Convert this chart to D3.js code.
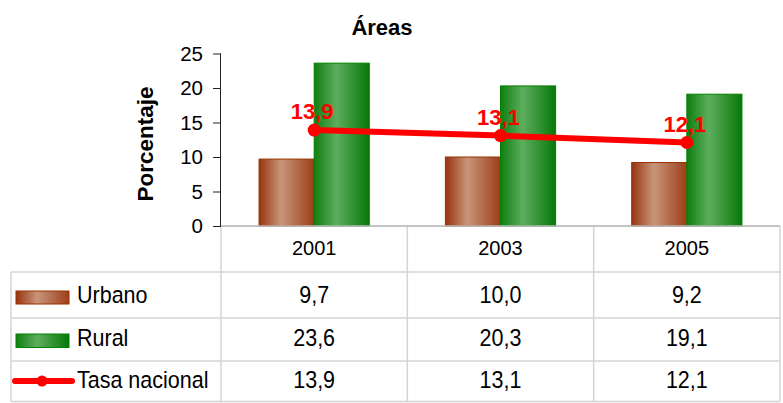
<!DOCTYPE html>
<html>
<head>
<meta charset="utf-8">
<script src="https://cdn.jsdelivr.net/npm/d3@7"></script>
<style>
  html, body { margin: 0; padding: 0; background: #ffffff; }
  svg { display: block; }
  text { font-family: "Liberation Sans", Arial, sans-serif; }
</style>
</head>
<body>
<svg id="chart" width="783" height="403"></svg>
<script>
// ---- data ----
const years = ["2001", "2003", "2005"];
const urbano = [9.7, 10.0, 9.2];
const rural = [23.6, 20.3, 19.1];
const tasa = [13.9, 13.1, 12.1];
const seriesNames = ["Urbano", "Rural", "Tasa nacional"];
const yTicks = [0, 5, 10, 15, 20, 25];
const titleText = "Áreas";
const yTitle = "Porcentaje";

// ---- setup ----
const svg = d3.select("#chart");
const plotL = 221, plotR = 780, plotT = 53.5, plotB = 226;
const rowLines = [226, 272, 318, 361, 401.5];
const tableL = 11;

const locale = d3.formatLocale({decimal: ",", thousands: ".", grouping: [3], currency: ["", ""]});
const fmt = locale.format(".1f");

const x0 = d3.scaleBand().domain(years).range([plotL, plotR]).padding(0);
const x1 = d3.scaleBand().domain(["Urbano", "Rural"]).range([0, x0.bandwidth()])
  .paddingInner(0).paddingOuter(0.69);
const y = d3.scaleLinear().domain([0, 25]).range([plotB, plotT]);

// ---- gradients ----
const defs = svg.append("defs");
function grad(id, edgeL, mid, edgeR) {
  const g = defs.append("linearGradient").attr("id", id)
    .attr("x1", "0%").attr("x2", "100%").attr("y1", "0%").attr("y2", "0%");
  g.append("stop").attr("offset", "0%").attr("stop-color", edgeL);
  g.append("stop").attr("offset", "40%").attr("stop-color", mid);
  g.append("stop").attr("offset", "100%").attr("stop-color", edgeR);
}
grad("gUrb", "#983410", "#c8957a", "#9c3e18");
grad("gRur", "#0f7f0f", "#5dad5d", "#087808");
const fills = {Urbano: "url(#gUrb)", Rural: "url(#gRur)"};
const strokes = {Urbano: "#993300", Rural: "#008000"};
const seriesVals = {Urbano: urbano, Rural: rural};

// ---- title ----
svg.append("text").attr("x", 382).attr("y", 35).attr("text-anchor", "middle")
  .attr("font-size", 22).attr("font-weight", "bold").attr("fill", "#000").text(titleText);

// ---- y title ----
svg.append("text").attr("transform", "translate(153,144) rotate(-90)")
  .attr("text-anchor", "middle").attr("font-size", 22.5).attr("font-weight", "bold")
  .attr("fill", "#000").text(yTitle);

// ---- table grid ----
const grid = svg.append("g").attr("stroke", "#d4d4d4").attr("stroke-width", 1.5).attr("fill", "none");
rowLines.forEach((yy, i) => {
  grid.append("line").attr("x1", i === 0 ? plotL : tableL).attr("x2", plotR)
    .attr("y1", yy).attr("y2", yy);
});
const colEdges = years.map(d => x0(d)).concat([plotR]);
colEdges.forEach(xx => {
  grid.append("line").attr("x1", xx).attr("x2", xx).attr("y1", plotB).attr("y2", rowLines[4]);
});
grid.append("line").attr("x1", tableL).attr("x2", tableL).attr("y1", rowLines[1]).attr("y2", rowLines[4]);

// ---- bars ----
const barG = svg.append("g");
["Urbano", "Rural"].forEach(s => {
  barG.selectAll(null).data(years).enter().append("rect")
    .attr("x", d => x0(d) + x1(s))
    .attr("width", x1.bandwidth())
    .attr("y", (d, i) => y(seriesVals[s][i]))
    .attr("height", (d, i) => plotB - y(seriesVals[s][i]))
    .attr("fill", fills[s])
    .attr("stroke", strokes[s]).attr("stroke-width", 1);
});

// ---- y axis ----
const yAxis = d3.axisLeft(y).tickValues(yTicks).tickSize(8).tickPadding(10).tickFormat(d3.format("d"));
const ag = svg.append("g").attr("transform", `translate(${plotL},0)`).call(yAxis);
ag.select(".domain").attr("stroke", "#222").attr("d", `M-0.5,${plotT}V${plotB}`);
ag.selectAll(".tick line").attr("stroke", "#222");
ag.selectAll(".tick text").attr("font-size", 20.5).attr("fill", "#000")
  .attr("font-family", "'Liberation Sans', Arial, sans-serif");

// ---- x axis line ----
svg.append("line").attr("x1", plotL).attr("x2", plotR).attr("y1", plotB).attr("y2", plotB)
  .attr("stroke", "#bdbdbd").attr("stroke-width", 1.5);

// ---- line series ----
const cx = d => x0(d) + x0.bandwidth() / 2;
const line = d3.line().x((d, i) => cx(years[i])).y(d => y(d));
svg.append("path").datum(tasa).attr("d", line).attr("fill", "none")
  .attr("stroke", "#ff0000").attr("stroke-width", 6);
svg.selectAll(null).data(tasa).enter().append("circle")
  .attr("cx", (d, i) => cx(years[i])).attr("cy", d => y(d)).attr("r", 6.5).attr("fill", "#ff0000");
svg.selectAll(null).data(tasa).enter().append("text")
  .attr("x", (d, i) => cx(years[i]) - 2).attr("y", d => y(d) - 11)
  .attr("text-anchor", "middle").attr("font-size", 22).attr("font-weight", "bold")
  .attr("fill", "#ff0000").text(d => fmt(d));

// ---- table text ----
const tg = svg.append("g");
tg.selectAll(null).data(years).enter().append("text")
  .attr("x", d => cx(d)).attr("y", 254.5).attr("text-anchor", "middle")
  .attr("font-size", 20).attr("fill", "#000").text(d => d);

const rowData = [urbano, rural, tasa];
const rowBase = [303.5, 346.5, 388];
rowData.forEach((vals, r) => {
  tg.selectAll(null).data(vals).enter().append("text")
    .attr("x", (d, i) => cx(years[i])).attr("y", rowBase[r]).attr("text-anchor", "middle")
    .attr("font-size", 21.5).attr("fill", "#000")
    .attr("transform", `translate(0,${rowBase[r]}) scale(1,1.1) translate(0,${-rowBase[r]})`)
    .text(d => fmt(d));
});

// ---- legend in table ----
const lg = svg.append("g");
lg.append("rect").attr("x", 16).attr("y", 291).attr("width", 53).attr("height", 13)
  .attr("fill", fills.Urbano).attr("stroke", strokes.Urbano).attr("stroke-width", 1);
lg.append("rect").attr("x", 16).attr("y", 334).attr("width", 53).attr("height", 13.5)
  .attr("fill", fills.Rural).attr("stroke", strokes.Rural).attr("stroke-width", 1);
lg.append("line").attr("x1", 15).attr("x2", 72).attr("y1", 381).attr("y2", 381)
  .attr("stroke", "#ff0000").attr("stroke-width", 6).attr("stroke-linecap", "round");
lg.append("circle").attr("cx", 42).attr("cy", 381).attr("r", 5.5).attr("fill", "#ff0000");
seriesNames.forEach((s, i) => {
  lg.append("text").attr("x", 77).attr("y", rowBase[i]).attr("font-size", 21.5).attr("fill", "#000")
    .attr("transform", `translate(0,${rowBase[i]}) scale(1,1.1) translate(0,${-rowBase[i]})`)
    .text(s);
});
</script>
</body>
</html>
